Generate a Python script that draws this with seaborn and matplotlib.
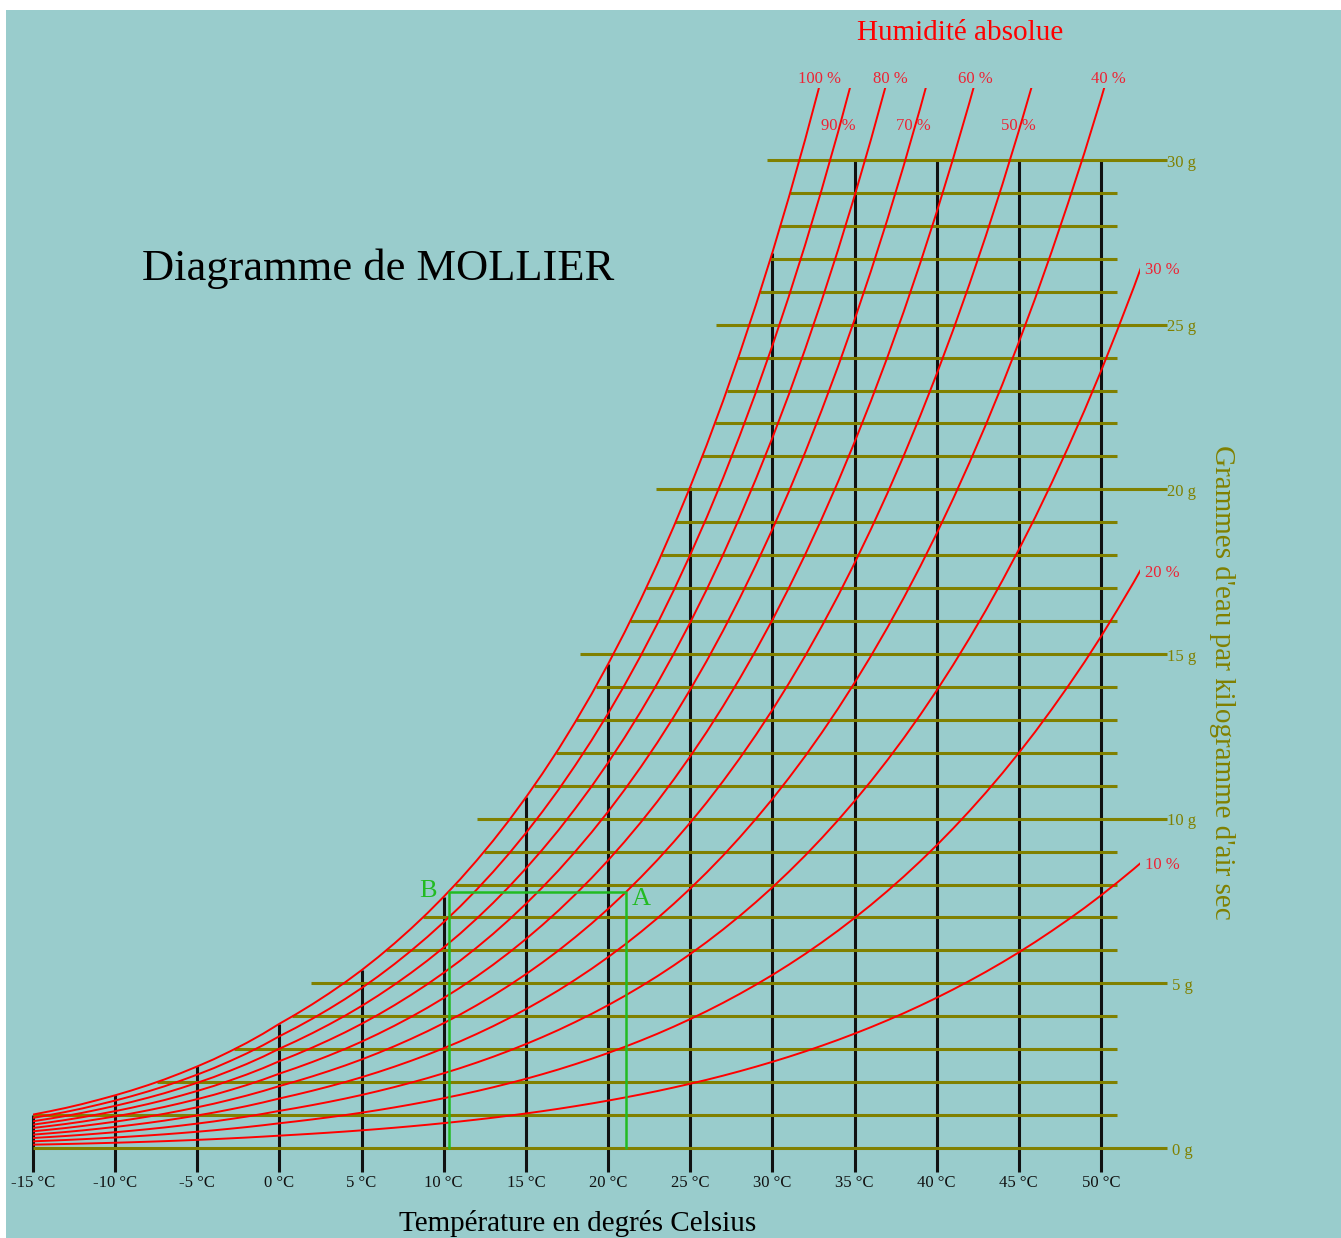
import numpy as np
import pandas as pd
import seaborn as sns
import matplotlib
matplotlib.use("Agg")
import matplotlib.pyplot as plt
from matplotlib.patches import Rectangle

# ─────────────────────────────────────────
# DATA
# ─────────────────────────────────────────
# saturation vapour pressure in hPa (over ice below 0 °C)
temps = list(range(-15, 54))
p_sat = [1.65, 1.81, 1.98, 2.17, 2.38, 2.60, 2.84, 3.10, 3.38, 3.69,
         4.02, 4.37, 4.76, 5.17, 5.62, 6.11, 6.57, 7.06, 7.58, 8.13,
         8.72, 9.35, 10.02, 10.73, 11.48, 12.28, 13.12, 14.02, 14.97, 15.98,
         17.05, 18.18, 19.37, 20.64, 21.97, 23.38, 24.87, 26.44, 28.09, 29.84,
         31.68, 33.61, 35.65, 37.80, 40.06, 42.43, 44.93, 47.55, 50.31, 53.20,
         56.24, 59.42, 62.76, 66.26, 69.93, 73.77, 77.80, 82.02, 86.42, 91.03,
         95.86, 100.9, 106.2, 111.7, 117.4, 123.4, 129.7, 136.2, 143.0]
P_ATM = 1013.25

rh_levels   = [10, 20, 30, 40, 50, 60, 70, 80, 90, 100]
temp_ticks  = [-15, -10, -5, 0, 5, 10, 15, 20, 25, 30, 35, 40, 45, 50]
water_grams = list(range(0, 31))
major_grams = [0, 5, 10, 15, 20, 25, 30]

point_A = (21.1, 7.77)
point_B = (10.3, 7.77)

# ─────────────────────────────────────────
# STYLE
# ─────────────────────────────────────────
BG     = "#99cccc"
OLIVE  = "#808000"
RED    = "#ff0000"
GREEN  = "#22bb22"

sns.set_style("white")
plt.rcParams['font.family'] = ['Liberation Serif', 'DejaVu Serif']

T = np.array(temps, dtype=float)
E = np.array(p_sat)
g_sat = 622 * E / (P_ATM - E)

rows = []
for rh in rh_levels:
    phi = rh / 100
    g = 622 * phi * E / (P_ATM - phi * E)
    for t, v in zip(T, g):
        rows.append({"T": t, "g": v, "rh": rh})
curves = pd.DataFrame(rows)

fig = plt.figure(figsize=(13.41, 12.38), dpi=100)
ax = fig.add_axes([6 / 1341, 0, 1335 / 1341, 1228 / 1238])
ax.set_facecolor(BG)
ax.set_xlim(-16.643, 64.61)
ax.set_ylim(-2.733, 34.555)
for s in ax.spines.values():
    s.set_visible(False)
ax.set_xticks([]); ax.set_yticks([])

# vertical temperature lines, up to the saturation curve
tops = [min(g_sat[temps.index(t)], 30) for t in temp_ticks]
ax.vlines(temp_ticks, -0.73, tops, color="#111111", lw=2.2, zorder=1)

# horizontal water-content lines
t_at_sat = np.interp(water_grams, g_sat, T)
for gr, t0 in zip(water_grams, t_at_sat):
    if gr in major_grams:
        ax.hlines(gr, max(t0 - 2, -15), 54.0, color=OLIVE, lw=2.2, zorder=2)
        ax.text(54.93, gr - 0.08, f"{gr} g", color=OLIVE, fontsize=12,
                ha="center", va="center")
    else:
        ax.hlines(gr, max(t0, -15), 51.0, color=OLIVE, lw=2.2, zorder=2)

# relative humidity curves
sns.lineplot(data=curves, x="T", y="g", hue="rh", palette={r: RED for r in rh_levels},
             estimator=None, sort=False, legend=False, lw=1.4, ax=ax, zorder=3)
clip = Rectangle((-15, -1), 67.4, 33.2, transform=ax.transData)
for line in ax.lines:
    line.set_clip_path(clip)
ax.set_xlabel(""); ax.set_ylabel("")

rh_labels = {100: (32.9, 32.45, "center"), 90: (34.0, 31.02, "center"),
             80: (37.16, 32.45, "center"), 70: (38.56, 31.02, "center"),
             60: (42.33, 32.45, "center"), 50: (44.95, 31.02, "center"),
             40: (50.43, 32.45, "center"), 30: (52.68, 26.65, "left"),
             20: (52.68, 17.45, "left"), 10: (52.68, 8.58, "left")}
for rh, (x, y, ha) in rh_labels.items():
    ax.text(x, y, f"{rh} %", color="#ee2233", fontsize=12, ha=ha, va="center", zorder=5)

# temperature labels
for t in temp_ticks:
    ax.text(t, -1.06, f"{t} °C", color="#111111", fontsize=12, ha="center", va="center")

# example A -> B (cooling down to the dew point)
ax.plot([point_B[0], point_B[0], point_A[0], point_A[0]],
        [0, point_B[1], point_A[1], 0], color=GREEN, lw=1.8, zorder=4)
ax.text(point_B[0] - 1.25, point_B[1] + 0.02, "B", color=GREEN, fontsize=19,
        ha="center", va="center")
ax.text(point_A[0] + 0.9, point_A[1] - 0.2, "A", color=GREEN, fontsize=19,
        ha="center", va="center")

# titles
ax.text(-8.37, 26.69, "Diagramme de MOLLIER", color="black", fontsize=32,
        ha="left", va="center")
ax.text(41.42, 33.85, "Humidité absolue", color=RED, fontsize=21, ha="center", va="center")
ax.text(18.17, -2.53, "Température en degrés Celsius", color="black", fontsize=21,
        ha="center", va="baseline")
ax.text(57.37, 14.15, "Grammes d'eau par kilogramme d'air sec", color=OLIVE,
        fontsize=21, rotation=-90, ha="center", va="center")

fig.savefig("out.png", dpi=100, facecolor="white")
